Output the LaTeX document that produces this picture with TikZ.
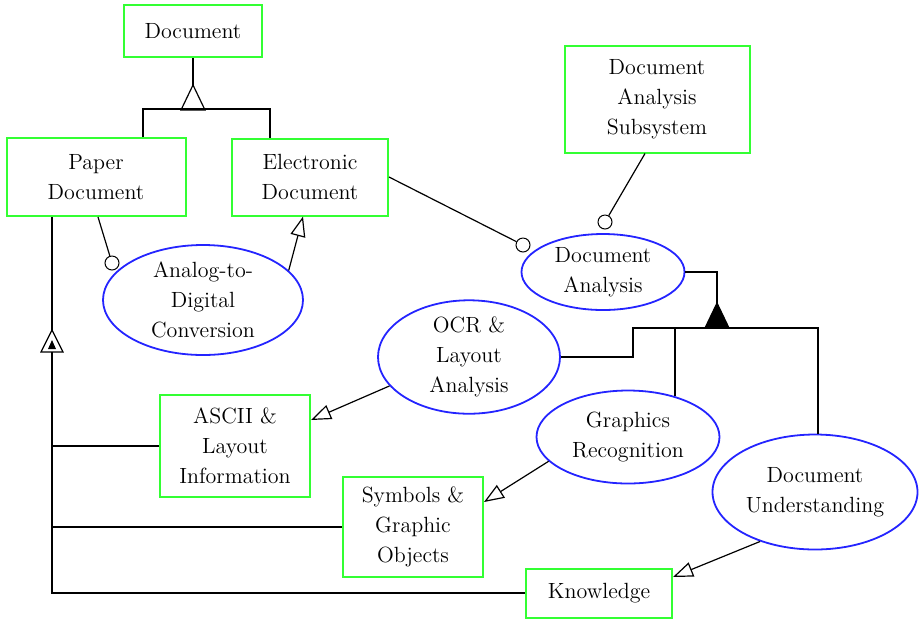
\documentclass[tikz,border=0pt]{standalone}
\usepackage{tikz}
\usetikzlibrary{shapes, positioning, arrows.meta, calc}
\definecolor{boxgreen}{HTML}{33FF33}
\definecolor{ovalblue}{HTML}{2424FF}
\tikzset{
  classbox/.style = {rectangle, draw = boxgreen, line width = 1pt, align = center, inner sep = 0pt},
  usecase/.style = {ellipse, draw = ovalblue, line width = 0.9pt, align = center, inner sep = 0pt},
  iface/.style = {circle, draw = black, line width = 0.5pt, minimum size = 7pt, inner sep = 0pt},
  link/.style = {draw = black, line width = 0.6pt},
  realize/.style = {link, -{Triangle[open, length = 10pt, width = 7.5pt]}}
}
\begin{document}
\begin{tikzpicture}[x = 0.5pt, y = -0.5pt, font = \fontsize{11}{15}\selectfont]
\useasboundingbox (0,0) rectangle (920,618);
\node[classbox, minimum width = 69pt, minimum height = 26pt] (doc) at (193,31) {Document};
\node[classbox, minimum width = 89.5pt, minimum height = 39pt] (paper) at (96,177) {Paper\\Document};
\node[classbox, minimum width = 78pt, minimum height = 38.5pt] (elec) at (310,177) {Electronic\\Document};
\node[classbox, minimum width = 92.5pt, minimum height = 53.5pt] (das) at (657,99) {Document\\Analysis\\Subsystem};
\node[classbox, minimum width = 75pt, minimum height = 51pt] (ascii) at (235,446) {ASCII \&\\Layout\\Information};
\node[classbox, minimum width = 70pt, minimum height = 50pt] (sym) at (413,527) {Symbols \&\\Graphic\\Objects};
\node[classbox, minimum width = 73pt, minimum height = 24.5pt] (know) at (599,593) {Knowledge};
\node[usecase, minimum width = 100pt, minimum height = 55pt] (adc) at (203,300) {Analog-to-\\Digital\\Conversion};
\node[usecase, minimum width = 81.5pt, minimum height = 38pt] (da) at (603,272) {Document\\Analysis};
\node[usecase, minimum width = 91pt, minimum height = 52.5pt] (ocr) at (469,357) {OCR \&\\Layout\\Analysis};
\node[usecase, minimum width = 91.5pt, minimum height = 46.5pt] (gr) at (628,437) {Graphics\\Recognition};
\node[usecase, minimum width = 102.5pt, minimum height = 57.5pt] (du) at (815,492) {Document\\Understanding};
\node[iface] (adcif) at (112,263) {};
\node[iface] (daif) at (523,245) {};
\node[iface] (dasif) at (605,222) {};
\coordinate (docTri) at (193,85);
\coordinate (daTri) at (717,303);
\coordinate (daBar) at (717,328);
\coordinate (kTri) at (52,330);
\coordinate (kBase) at (52,352);
\draw[link] (doc.south) -- (docTri);
\draw[link, fill = white] (docTri) -- ++(-12,25) -- ++(24,0) -- cycle;
\draw[link] ($(paper.north)+(47,0)$) -- ++(0,-28) -| ($(elec.north)+(-40,0)$);
\draw[link] ($(paper.south)+(2,0)$) -- (adcif);
\draw[realize] (adc.19) -- ($(elec.south)+(-7,0)$);
\draw[link] (elec.east) -- (daif);
\draw[link] ($(das.south)+(-12,0)$) -- (dasif);
\draw[link] (da.east) -| (daTri);
\draw[link, fill = black] (daTri) -- ++(-12,25) -- ++(24,0) -- cycle;
\draw[link] (ocr.east) -- ++(72,0) |- (daBar);
\draw[link] (daBar) -| (gr.41);
\draw[link] (daBar) -| ($(du.north)+(3,0)$);
\draw[realize] (ocr.200) -- ($(ascii.east)+(0,-26)$);
\draw[realize] (gr.197) -- ($(sym.east)+(0,-25)$);
\draw[realize] (du.222) -- ($(know.east)+(0,-16)$);
\draw[link] (kTri |- paper.south) -- (kTri);
\draw[link, fill = white] (kTri) -- ++(-11,22) -- ++(22,0) -- cycle;
\fill ($(kTri)+(0,10)$) -- ++(-4,9) -- ++(8,0) -- cycle;
\draw[link] (kBase) |- (know.west);
\draw[link] (ascii.west) -- (ascii.west -| kBase);
\draw[link] (sym.west) -- (sym.west -| kBase);
\end{tikzpicture}
\end{document}
